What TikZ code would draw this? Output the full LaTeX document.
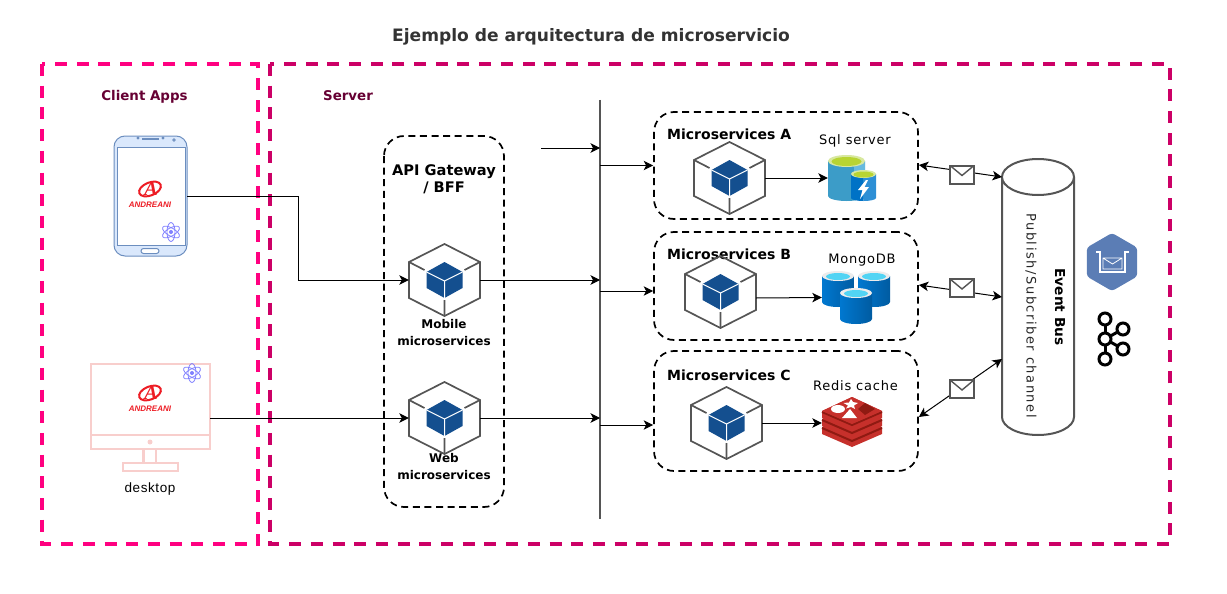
\documentclass[tikz,border=0pt]{standalone}
\usepackage{fontspec}
\setmainfont{DejaVu Sans}
\newfontfamily\plainfont{Liberation Sans}
\newfontfamily\logofont{Liberation Sans}
\newfontfamily\logoserif{Liberation Serif}
\newfontfamily\widefont[LetterSpace=6]{DejaVu Sans}
\newfontfamily\widerfont[LetterSpace=12]{DejaVu Sans}
\usetikzlibrary{shapes,shapes.geometric,arrows,positioning,calc,arrows.meta}
\definecolor{clientpink}{HTML}{FF0080}
\definecolor{serverpink}{HTML}{CC0066}
\definecolor{darktitle}{HTML}{660033}
\definecolor{cubegrey}{HTML}{555555}
\definecolor{cubeblue}{HTML}{144F8F}
\definecolor{atomblue}{HTML}{8080FF}
\definecolor{logored}{HTML}{ED1C24}
\definecolor{deskpink}{HTML}{F8CECC}
\definecolor{phonefill}{HTML}{DAE8FC}
\definecolor{phoneline}{HTML}{6C8EBF}
\definecolor{redisdark}{HTML}{8F1A12}
\definecolor{redisred}{HTML}{C6302B}
\definecolor{sqlgreen}{HTML}{B8D432}
\definecolor{sqlrim}{HTML}{D8E8A0}
\definecolor{sqlbody}{HTML}{3C9CC8}
\definecolor{sqllight}{HTML}{68BADF}
\definecolor{sqlblue}{HTML}{0072C6}
\definecolor{sqlside}{HTML}{2D8FD5}
\definecolor{mongoleft}{HTML}{0078D0}
\definecolor{mongoright}{HTML}{005BA1}
\definecolor{mongotop}{HTML}{52D4F4}
\definecolor{brokerblue}{HTML}{5B7DB5}

\tikzset{
    % hexagon with the small solid cube inside
    cubeicon/.pic={
        \draw[cubegrey, line width=1.7pt, line join=miter] (0,-36) -- (35.5,-18) -- (35.5,18) -- (0,36) -- (-35.5,18) -- (-35.5,-18) -- cycle;
        \draw[cubegrey, line width=1.7pt] (-35.5,-18) -- (-20,-10) (35.5,-18) -- (20,-10) (0,36) -- (0,20);
        \fill[cubeblue] (0,-18) -- (18,-8) -- (18,8) -- (0,18) -- (-18,8) -- (-18,-8) -- cycle;
        \draw[white, line width=1pt] (-18,-8) -- (0,1) -- (18,-8) (0,1) -- (0,18);
    },
    atomicon/.pic={
        \foreach \ang in {90,30,-30} {
            \draw[atomblue, line width=.8pt, rotate=\ang] (0,0) circle [x radius=9.5pt, y radius=4pt];
        }
        \fill[atomblue] (0,0) circle [radius=2pt];
    },
    logoicon/.pic={
        \draw[logored, line width=2pt, rotate=22] (0,0) circle [x radius=11.5pt, y radius=6.5pt];
        \node[text=logored, inner sep=0pt, font=\logoserif\bfseries\itshape\fontsize{20}{20}\selectfont] (-letter) at (1,0) {A};
        \node[text=logored, inner sep=0pt, font=\logofont\bfseries\itshape\fontsize{8}{8}\selectfont] (-word) at (0,16) {ANDREANI};
    }
}

\begin{document}
\begin{tikzpicture}[
    x=1pt, y=-1pt,
    zone/.style={line width=3.2pt, dash pattern=on 12pt off 9.7pt},
    group/.style={draw=black, line width=1.7pt, dash pattern=on 7pt off 4.6pt, rounded corners=20pt},
    title/.style={font=\bfseries\fontsize{14}{17}\selectfont, align=center, inner sep=0pt},
    label/.style={font=\widefont\fontsize{13}{16}\selectfont, align=center, inner sep=0pt},
    cubebox/.style={minimum width=71pt, minimum height=72pt, inner sep=0pt},
    iconbox/.style={inner sep=0pt},
    mail/.style={draw=cubegrey, line width=2pt, fill=white, minimum width=24pt, minimum height=18pt, inner sep=0pt,
        path picture={\draw[cubegrey, line width=1.4pt] (path picture bounding box.north west) -- ($(path picture bounding box.center)+(0pt,-1pt)$) -- (path picture bounding box.north east);}},
    arrow/.style={-{Stealth[length=9.5pt, width=9.5pt, inset=2.5pt]}, line width=1pt},
    biarrow/.style={{Stealth[length=9.5pt, width=9.5pt, inset=2.5pt]}-{Stealth[length=9.5pt, width=9.5pt, inset=2.5pt]}, line width=1pt}
]
\useasboundingbox (0,0) rectangle (1227,594);

\node[font=\bfseries\fontsize{17.1}{20}\selectfont, text=black!80, inner sep=0pt] (heading) at (591,37) {Ejemplo de arquitectura de microservicio};

% Zones
\draw[zone, clientpink] (42,64) rectangle (258,544);
\draw[zone, serverpink] (270,64) rectangle (1170,544);
\node[title, text=darktitle, font=\bfseries\fontsize{13.4}{16}\selectfont] (clienttitle) at (144.5,96.5) {Client Apps};
\node[title, text=darktitle, font=\bfseries\fontsize{13.4}{16}\selectfont] (servertitle) at (348,95.5) {Server};

% Gateway and microservice groups
\draw[group] (384,136) rectangle (504,507);
\node[group, draw, minimum width=264pt, minimum height=107pt, inner sep=0pt] (msa) at (786,165.5) {};
\node[group, draw, minimum width=264pt, minimum height=108pt, inner sep=0pt] (msb) at (786,286) {};
\node[group, draw, minimum width=264pt, minimum height=120pt, inner sep=0pt] (msc) at (786,411) {};

% Phone
\node[iconbox, minimum width=73pt, minimum height=120pt] (phone) at (150.5,196) {};
\draw[draw=phoneline, fill=phonefill, line width=1pt, rounded corners=11pt] (114,136) rectangle (187,256);
\draw[draw=phoneline, fill=white, line width=1pt] (117,147) rectangle (185,245);
\draw[draw=phoneline, fill=white, line width=1pt, rounded corners=2.5pt] (141,248.5) rectangle (159,253.5);
\draw[draw=phoneline, line width=1.2pt] (142,139) -- (159,139);
\draw[draw=phoneline, line width=.8pt] (138,138) circle [radius=1pt] (163,138) circle [radius=1pt] (174,140) circle [radius=1.3pt];
\pic (phonelogo) at (150,189) {logoicon};
\pic at (171,232) {atomicon};

% Desktop
\node[iconbox, minimum width=119pt, minimum height=85pt] (desk) at (150.5,406.5) {};
\begin{scope}[deskpink, line width=2.2pt]
\draw (91,364) rectangle (210,449);
\draw (91,435) -- (210,435);
\fill (150,442) circle [radius=2.5pt];
\draw (143.5,449) -- (143.5,463) (156,449) -- (156,463);
\draw (123,463) rectangle (178,471);
\end{scope}
\pic (desklogo) at (150,393) {logoicon};
\pic at (192,373) {atomicon};
\node[font=\plainfont\fontsize{13.5}{16}\selectfont, inner sep=0pt] (desklabel) at (150,489) {d\kern.6pt e\kern.6pt s\kern.6pt k\kern.6pt t\kern.6pt o\kern.6pt p};

% Gateway content
\node[title, font=\bfseries\fontsize{14.6}{17}\selectfont] (gatewaylabel) at (444,179) {API Gateway\\/ BFF};
\node[cubebox] (mobile) at (444.5,280) {};
\pic at (mobile) {cubeicon};
\node[title, font=\bfseries\fontsize{12}{17}\selectfont] (mobilelabel) at (444,333) {Mobile\\microservices};
\node[cubebox] (web) at (444.5,418) {};
\pic at (web) {cubeicon};
\node[title, font=\bfseries\fontsize{12}{16.5}\selectfont] (weblabel) at (444,466.5) {Web\\microservices};

% Vertical bus
\coordinate (bustop) at (600,100);
\coordinate (busbottom) at (600,519);
\draw[cubegrey, line width=2pt] (bustop) -- (busbottom);

% Microservices A
\node[title, anchor=west] (msatitle) at (667,134.5) {Microservices A};
\node[cubebox] (cubea) at (729.5,178) {};
\pic at (cubea) {cubeicon};
\node[label] (sqllabel) at (855,141) {Sql server};
\node[iconbox, minimum width=48pt, minimum height=46pt] (sqlicon) at (852,178) {};
\fill[sqlbody] (828,161) -- (828,196) arc[start angle=180, end angle=360, x radius=18.5pt, y radius=5pt] -- (865,161) -- cycle;
\fill[sqllight] (854,161) rectangle (865,199);
\fill[sqlrim] (846.5,161) circle [x radius=18.5pt, y radius=6pt];
\fill[sqlgreen] (846.5,161.5) circle [x radius=15pt, y radius=4.5pt];
\fill[sqlblue] (851,174) -- (851,198) arc[start angle=180, end angle=270, x radius=12.5pt, y radius=3pt] -- (863.5,174) -- cycle;
\fill[sqlside] (863.5,174) -- (863.5,201) arc[start angle=270, end angle=360, x radius=12.5pt, y radius=3pt] -- (876,174) -- cycle;
\fill[sqlrim] (863.5,174) circle [x radius=12.5pt, y radius=4pt];
\fill[sqlgreen] (863.5,174.5) circle [x radius=10pt, y radius=3pt];
\fill[white] (866,180) -- (858,190) -- (862.5,190) -- (860,199) -- (869,187) -- (864.5,187) -- (868,180) -- cycle;

% Microservices B
\node[title, anchor=west] (msbtitle) at (667,254.5) {Microservices B};
\node[cubebox] (cubeb) at (720.5,292) {};
\pic at (cubeb) {cubeicon};
\node[label] (mongolabel) at (862,260.5) {MongoDB};
\node[iconbox, minimum width=68pt, minimum height=53pt] (mongoicon) at (856,297.5) {};
\foreach \cx/\cy in {838/276, 874/276, 856/293} {
    \shade[left color=mongoleft, right color=mongoright] (\cx-16,\cy) -- (\cx-16,\cy+26) arc[start angle=180, end angle=360, x radius=16pt, y radius=5pt] -- (\cx+16,\cy) -- cycle;
    \fill[gray!15] (\cx,\cy) circle [x radius=16pt, y radius=5pt];
    \fill[mongotop] (\cx,\cy+.5) circle [x radius=12pt, y radius=3.5pt];
}

% Microservices C
\node[title, anchor=west] (msctitle) at (667,375.5) {Microservices C};
\node[cubebox] (cubec) at (726.5,423) {};
\pic at (cubec) {cubeicon};
\node[label] (redislabel) at (855.5,386) {Redis cache};
\node[iconbox, minimum width=60pt, minimum height=50pt] (redisicon) at (852,422) {};
\foreach \dy in {16,8,0} {
    \fill[redisred] (822,411+\dy) -- (852,397+\dy) -- (882,411+\dy) -- (882,418+\dy) -- (852,431+\dy) -- (822,418+\dy) -- cycle;
    \draw[redisdark, line width=2pt] (822,412+\dy) -- (852,425+\dy) -- (882,412+\dy);
}
\fill[redisred] (822,411) -- (852,397) -- (882,411) -- (852,424) -- cycle;
\fill[white] (838,409) circle [x radius=7pt, y radius=4pt];
\fill[white] (851,399) -- (853,402) -- (858,403) -- (854,405.5) -- (855,409) -- (851,407) -- (846,408.5) -- (848,405.5) -- (843.5,403) -- (849,402.5) -- cycle;
\fill[white] (850,409) -- (857,418) -- (842,418) -- cycle;
\fill[redisdark] (865,403) -- (875,409) -- (865,415) -- (858,409) -- cycle;

% Event bus
\node[iconbox, minimum width=72pt, minimum height=276pt] (eventbus) at (1038,297) {};
\draw[cubegrey, line width=2pt] (1002,177) -- (1002,417) arc[start angle=180, end angle=360, x radius=36pt, y radius=18pt] -- (1074,177) arc[start angle=0, end angle=180, x radius=36pt, y radius=18pt] arc[start angle=180, end angle=360, x radius=36pt, y radius=18pt];
\node[title, rotate=-90, font=\bfseries\fontsize{13.7}{16}\selectfont] (buslabel) at (1060,307) {Event Bus};
\node[label, rotate=-90, text=black!85, font=\widerfont\fontsize{13}{16}\selectfont] (channellabel) at (1031,315.5) {Publish/Subcriber channel};

% Broker icon
\node[regular polygon, regular polygon sides=6, regular polygon rotate=30, fill=brokerblue, minimum size=58pt, inner sep=0pt, rounded corners=3pt] (brokericon) at (1112,262) {};
\draw[white, line width=1.4pt] (1096,252) -- (1100,252) -- (1100,272) -- (1125,272) -- (1125,252) -- (1129,252);
\draw[white, line width=.8pt] (1103,258) rectangle (1122,269) (1103,258) -- (1112.5,264) -- (1122,258);

% Kafka logo
\coordinate (kcenter) at (1105,339);
\foreach \kx/\ky/\kr in {1105/319/6, 1105/359/6, 1123/329/6, 1123/349/6} {
    \draw[black, line width=3pt] (kcenter) -- (\kx,\ky);
    \draw[black, fill=white, line width=3pt] (\kx,\ky) circle [radius=\kr pt];
}
\draw[black, fill=white, line width=3pt] (kcenter) circle [radius=6pt];

% Arrows
\coordinate (gatewayin) at (541,148);
\draw[arrow] (gatewayin) -- (gatewayin -| bustop);
\draw[arrow] (phone.east) -- ++(111,0) |- (mobile.west);
\draw[arrow] ($(desk.east)+(0,11.5)$) -- (web.west);
\draw[arrow] (mobile.east) -- (bustop |- mobile.east);
\draw[arrow] (web.east) -- (web.east -| bustop);
\draw[arrow] (bustop |- msa.west) -- (msa.west);
\draw[arrow] (bustop |- 0,291) -- (msb.west |- 0,291);
\draw[arrow] (bustop |- 0,425) -- (msc.west |- 0,425);
\draw[arrow] (cubea.east) -- (sqlicon.west);
\draw[arrow] ($(cubeb.east)+(0,6)$) -- (mongoicon.west);
\draw[arrow] (cubec.east) -- (redisicon.west |- cubec.east);

% Messages to the event bus
\coordinate (busa) at (1002,177);
\coordinate (busb) at (1002,297);
\coordinate (busc) at (1002,359);
\draw[biarrow] (msa.east |- 0,165) -- (busa);
\draw[biarrow] (msb.east |- 0,285) -- (busb);
\draw[biarrow] (msc.east |- 0,417) -- (busc);
\node[mail] (mailx) at (962,174.5) {};
\node[mail] (maily) at (962,288) {};
\node[mail] (mailz) at (962,389) {};
\end{tikzpicture}
\end{document}
